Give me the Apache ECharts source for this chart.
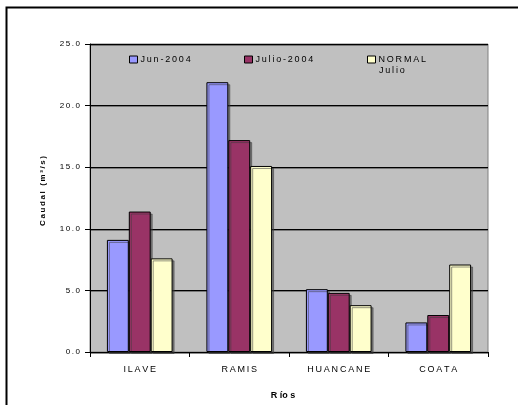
<!DOCTYPE html>
<html>
<head>
<meta charset="utf-8">
<script src="https://cdn.jsdelivr.net/npm/echarts@6/dist/echarts.min.js"></script>
<style>
  html, body { margin: 0; padding: 0; background: #fff; }
  #chart { width: 523px; height: 405px; }
</style>
</head>
<body>
<div id="chart"></div>
<script>
// River flow (m³/s) by station
const rivers = ['ILAVE', 'RAMIS', 'HUANCANE', 'COATA'];
const jun2004 = [9.1, 21.9, 5.1, 2.4];
const julio2004 = [11.4, 17.2, 4.8, 3.0];
const normalJulio = [7.6, 15.1, 3.8, 7.1];
const yTicks = [0, 5, 10, 15, 20, 25];

const FONT = '"Liberation Sans", Arial, sans-serif';
// spaced-out lettering
const spread = s => s.split('').join('\u2009');

const barShadow = {
  borderColor: '#000', borderWidth: 1,
  shadowColor: 'rgba(60,60,60,0.55)', shadowOffsetX: 2, shadowOffsetY: 2, shadowBlur: 0
};

const chart = echarts.init(document.getElementById('chart'), null, { renderer: 'canvas' });

function legendAt(name, left, top) {
  return {
    data: [name], left: left, top: top, orient: 'horizontal',
    itemWidth: 8, itemHeight: 7, itemGap: 0, padding: 0,
    icon: 'rect',
    itemStyle: { borderColor: '#000', borderWidth: 1 },
    textStyle: { fontFamily: FONT, fontSize: 9, color: '#000', padding: [0, 0, 0, -2] },
    formatter: n => spread(n === 'NORMAL Julio' ? 'NORMAL' : n)
  };
}

chart.setOption({
  animation: false,
  backgroundColor: '#fff',
  grid: {
    left: 90, top: 44, right: 35, bottom: 51,
    show: true, backgroundColor: '#C0C0C0', borderColor: '#808080', borderWidth: 1
  },
  legend: [
    legendAt('Jun-2004', 129, 55),
    legendAt('Julio-2004', 244, 55),
    legendAt('NORMAL Julio', 367, 55)
  ],
  xAxis: {
    type: 'category',
    data: rivers,
    name: 'R ío s',
    nameLocation: 'middle',
    nameGap: 39,
    nameTextStyle: { fontFamily: FONT, fontSize: 9, fontWeight: 'bold', color: '#000', padding: [0, 12, 0, 0] },
    axisLine: { lineStyle: { color: '#000', width: 1 } },
    axisTick: { show: true, length: 5, lineStyle: { color: '#000' } },
    axisLabel: {
      fontFamily: FONT, fontSize: 9, color: '#000', margin: 13,
      formatter: v => spread(v)
    },
    splitLine: { show: false }
  },
  yAxis: {
    type: 'value',
    min: yTicks[0], max: yTicks[yTicks.length - 1], interval: 5,
    name: spread('Caudal (m³/s)'),
    nameLocation: 'middle',
    nameGap: 43,
    nameRotate: 90,
    nameTextStyle: { fontFamily: FONT, fontSize: 8, fontWeight: 'bold', color: '#000', padding: [0, 0, 0, 14] },
    axisLine: { show: true, lineStyle: { color: '#000', width: 1 } },
    axisTick: { show: true, length: 5, lineStyle: { color: '#000' } },
    axisLabel: {
      fontFamily: FONT, fontSize: 8, color: '#000', margin: 10,
      formatter: v => spread(v.toFixed(1))
    },
    splitLine: {
      show: true,
      lineStyle: { color: '#000', width: 1, shadowColor: 'rgba(90,90,90,0.7)', shadowOffsetY: 1, shadowBlur: 0 }
    }
  },
  series: [
    { name: 'Jun-2004', type: 'bar', data: jun2004, barGap: '0%', barCategoryGap: '34%',
      itemStyle: Object.assign({ color: '#9999FF' }, barShadow) },
    { name: 'Julio-2004', type: 'bar', data: julio2004, barGap: '0%', barCategoryGap: '34%',
      itemStyle: Object.assign({ color: '#993366' }, barShadow) },
    { name: 'NORMAL Julio', type: 'bar', data: normalJulio, barGap: '0%', barCategoryGap: '34%',
      itemStyle: Object.assign({ color: '#FFFFCC' }, barShadow) }
  ],
  graphic: [
    { type: 'polyline', silent: true,
      shape: { points: [[6.5, 405], [6.5, 7.5], [518, 7.5]] },
      style: { stroke: '#000', lineWidth: 2, fill: null } },
    // second line of the third legend entry
    { type: 'text', silent: true, left: 379, top: 66,
      style: { text: spread('Julio'), fontFamily: FONT, fontSize: 9, fill: '#000' } }
  ]
});
</script>
</body>
</html>
